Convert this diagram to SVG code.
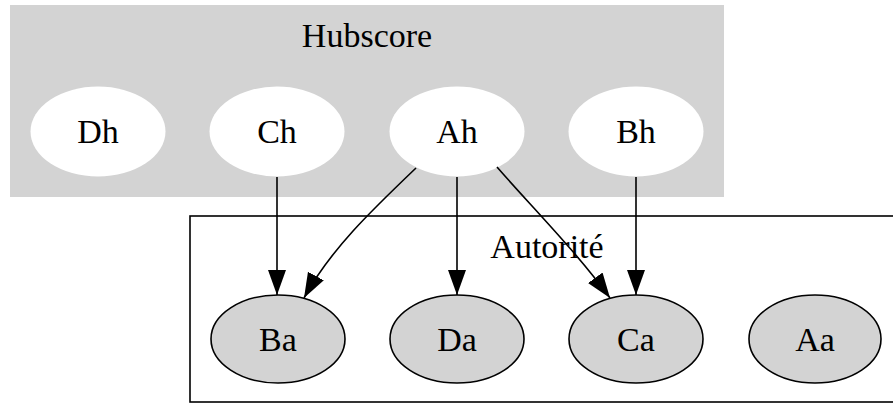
<svg xmlns="http://www.w3.org/2000/svg" width="893" height="404" viewBox="0 0 893 404">
<defs>
<style>
text{font-family:"Liberation Serif","Times New Roman",serif;font-size:34px;fill:#000;text-anchor:middle}
.hub{fill:#fff;stroke:none}
.aut{fill:#d3d3d3;stroke:#000;stroke-width:1.6}
.edge{fill:none;stroke:#000;stroke-width:1.6}
</style>
<marker id="arr" markerUnits="userSpaceOnUse" markerWidth="26" markerHeight="20" refX="25" refY="9" orient="auto">
<path d="M0,0 L25,9 L0,18 Z" fill="#000"/>
</marker>
</defs>
<rect width="893" height="404" fill="#fff"/>
<g id="cluster_hubscore">
<rect x="10" y="5" width="714" height="192" fill="#d3d3d3"/>
<text x="367" y="47">Hubscore</text>
</g>
<g id="cluster_autorite">
<rect x="190" y="216" width="720" height="186" fill="#fff" stroke="#000" stroke-width="1.6"/>
<text x="547" y="258">Autorité</text>
</g>
<g id="Dh"><ellipse class="hub" cx="98" cy="131.5" rx="67.5" ry="45"/><text x="98" y="143">Dh</text></g>
<g id="Ch"><ellipse class="hub" cx="277" cy="131.5" rx="67.5" ry="45"/><text x="277" y="143">Ch</text></g>
<g id="Ah"><ellipse class="hub" cx="457" cy="131.5" rx="67.5" ry="45"/><text x="457" y="143">Ah</text></g>
<g id="Bh"><ellipse class="hub" cx="636" cy="131.5" rx="67.5" ry="45"/><text x="636" y="143">Bh</text></g>
<g id="Ba"><ellipse class="aut" cx="278" cy="339" rx="67" ry="44"/><text x="278" y="351">Ba</text></g>
<g id="Da"><ellipse class="aut" cx="457" cy="339" rx="67" ry="44"/><text x="457" y="351">Da</text></g>
<g id="Ca"><ellipse class="aut" cx="636" cy="339" rx="67" ry="44"/><text x="636" y="351">Ca</text></g>
<g id="Aa"><ellipse class="aut" cx="815" cy="339" rx="66" ry="44"/><text x="815" y="351">Aa</text></g>
<g id="edges">
<path class="edge" marker-end="url(#arr)" d="M277,177 L277,295"/>
<path class="edge" marker-end="url(#arr)" d="M416,168 C372,210 330,250 304,298"/>
<path class="edge" marker-end="url(#arr)" d="M457,177 L457,295"/>
<path class="edge" marker-end="url(#arr)" d="M497,167 C530,205 575,250 610,298"/>
<path class="edge" marker-end="url(#arr)" d="M636,177 L636,295"/>
</g>
</svg>
